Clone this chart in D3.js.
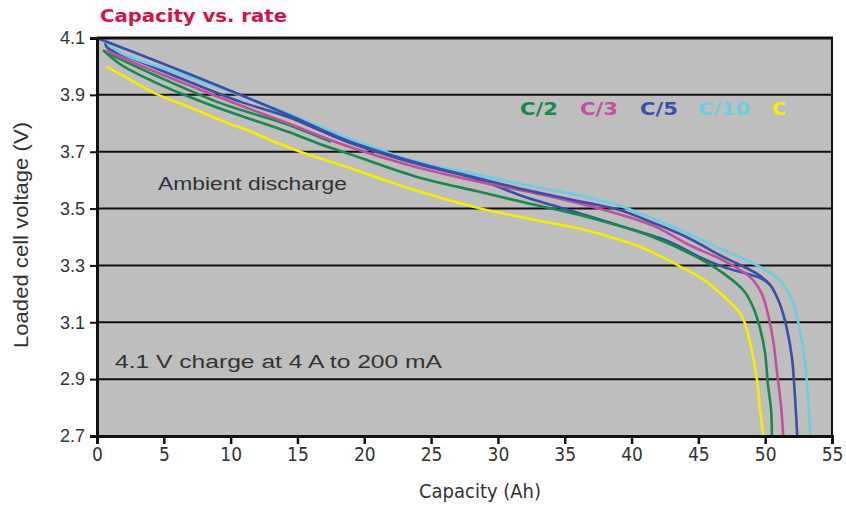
<!DOCTYPE html>
<html><head><meta charset="utf-8">
<script src="https://cdn.jsdelivr.net/npm/d3@7"></script>
<style>body{margin:0;background:#fff}svg{display:block}</style>
</head><body><svg id="c" width="846" height="505"></svg>
<script>
// ---- data ----
const xTicks = [0,5,10,15,20,25,30,35,40,45,50,55];
const yTicks = [2.7,2.9,3.1,3.3,3.5,3.7,3.9,4.1];
const seriesNames = ["C/2","C/3","C/5","C/10","C"];
const seriesColors = ["#17894a","#c24f9c","#3a4fa6","#6dcde0","#f4ee00"];

const capC2  = [0.45,1.8,4.3,6.8,9.3,11.8,14.3,16.5,18.7,23.7,28.7,32.4,36.7,41.6,44.9,46.9,48.4,49.1,49.6,50.0,50.2,50.45,50.5];
const voltC2 = [4.058,4.006,3.945,3.895,3.85,3.81,3.77,3.73,3.695,3.615,3.558,3.517,3.47,3.40,3.329,3.271,3.211,3.153,3.082,2.989,2.883,2.788,2.70];
const capC2b  = [0.8,4.3,9.3,14.3,17.5];
const voltC2b = [4.047,3.97,3.87,3.795,3.735];

const capC3  = [0.7,3.1,6.8,10.6,14.3,18.7,23.7,28.7,32.4,36.7,41.6,44.4,46.9,48.9,49.75,50.2,50.6,50.9,51.2,51.35];
const voltC3 = [4.055,4.006,3.935,3.865,3.80,3.72,3.648,3.593,3.558,3.511,3.44,3.37,3.317,3.258,3.20,3.13,3.035,2.918,2.80,2.70];

const capC5  = [0,6.8,14.3,18.7,23.7,28.7,31.7,36.7,39.1,41.6,44.1,46.9,49.4,50.4,51.1,51.6,52.0,52.2,52.4];
const voltC5 = [4.10,3.975,3.83,3.74,3.665,3.605,3.57,3.52,3.495,3.45,3.40,3.329,3.27,3.23,3.164,3.082,2.976,2.859,2.70];
const capC5b  = [0.6,0.8,3.1,6.8,10.6,14.3,18.7,23.7,28.7,31.7,35.4,39.1,42.9,45.1,46.9,49.75,50.4];
const voltC5b = [4.082,4.065,4.019,3.948,3.878,3.822,3.735,3.66,3.6,3.546,3.493,3.44,3.382,3.329,3.294,3.253,3.23];

const capC10  = [0.6,1.8,6.8,11.8,14.3,18.7,23.7,28.7,32.4,36.7,39.1,41.6,44.1,46.6,49.4,51.1,52.1,52.6,53.0,53.2,53.4];
const voltC10 = [4.088,4.047,3.965,3.88,3.835,3.75,3.668,3.617,3.58,3.54,3.51,3.465,3.415,3.36,3.30,3.247,3.166,3.07,2.954,2.835,2.70];

const capC1  = [0.7,1.8,4.3,6.8,9.3,11.8,13.7,15.2,18.7,23.7,28.7,31.7,34.2,36.7,39.1,40.4,41.6,42.9,43.6,44.6,45.6,46.5,47.4,48.1,48.5,49.0,49.4,49.6,49.85];
const voltC1 = [4.00,3.971,3.906,3.859,3.81,3.765,3.727,3.70,3.646,3.566,3.50,3.47,3.447,3.423,3.39,3.37,3.345,3.315,3.297,3.272,3.243,3.208,3.169,3.134,3.095,3.0,2.894,2.80,2.70];

// ---- layout ----
const svg = d3.select("#c");
const L=97, R=832, T=38, B=436;
const x = d3.scaleLinear().domain([0,55]).range([L,R]);
const y = d3.scaleLinear().domain([2.7,4.1]).range([B,T]);

svg.append("rect").attr("x",L).attr("y",T).attr("width",R-L).attr("height",B-T).attr("fill","#bebebe");

// gridlines
svg.append("g").selectAll("line").data(yTicks.filter(v=>v>2.75 && v<4.05)).join("line")
  .attr("x1",L).attr("x2",R).attr("y1",d=>y(d)).attr("y2",d=>y(d))
  .attr("stroke","#111").attr("stroke-width",2);

// series
const lines = [
  {c:capC2b,v:voltC2b,col:seriesColors[0]},
  {c:capC5b,v:voltC5b,col:seriesColors[2]},
  {c:capC1,v:voltC1,col:seriesColors[4]},
  {c:capC2,v:voltC2,col:seriesColors[0]},
  {c:capC3,v:voltC3,col:seriesColors[1]},
  {c:capC10,v:voltC10,col:seriesColors[3]},
  {c:capC5,v:voltC5,col:seriesColors[2]}
];
const lineGen = d3.line().x(d=>x(d[0])).y(d=>y(d[1])).curve(d3.curveCatmullRom.alpha(0.5));
lines.forEach(s=>{
  svg.append("path").datum(s.c.map((c,i)=>[c,s.v[i]]))
    .attr("d",lineGen).attr("fill","none").attr("stroke",s.col).attr("stroke-width",2.6)
    .attr("stroke-linejoin","round");
});

// frame top/right
svg.append("line").attr("x1",L).attr("x2",R+1).attr("y1",T).attr("y2",T).attr("stroke","#111").attr("stroke-width",3);
svg.append("line").attr("x1",R).attr("x2",R).attr("y1",T).attr("y2",B).attr("stroke","#111").attr("stroke-width",2);

// axes
const yAxis = d3.axisLeft(y).tickValues(yTicks).tickSize(7).tickFormat(d3.format(".1f"));
const gy = svg.append("g").attr("transform",`translate(${L},0)`).call(yAxis);
gy.select(".domain").attr("stroke","#111").attr("stroke-width",3);
gy.selectAll(".tick line").attr("stroke","#111").attr("stroke-width",2);
gy.selectAll(".tick text").attr("font-family","'Liberation Sans',Arial,sans-serif").attr("font-size",18).attr("fill","#333").attr("x",-12);

const xAxis = d3.axisBottom(x).tickValues(xTicks).tickSize(8).tickFormat(d3.format("d"));
const gx = svg.append("g").attr("transform",`translate(0,${B})`).call(xAxis);
gx.select(".domain").attr("stroke","#111").attr("stroke-width",3);
gx.selectAll(".tick line").attr("stroke","#111").attr("stroke-width",2.5);
gx.selectAll(".tick text").attr("font-family","'Liberation Sans Narrow','DejaVu Sans Condensed',sans-serif").attr("font-stretch","condensed").attr("font-size",19).attr("fill","#333").attr("y",12);

// titles
svg.append("text").attr("x",100).attr("y",22).text("Capacity vs. rate")
  .attr("font-family","'DejaVu Sans',sans-serif").attr("font-weight","bold").attr("font-size",17)
  .attr("fill","#d5124a").attr("textLength",187).attr("lengthAdjust","spacingAndGlyphs");
svg.append("text").attr("x",480).attr("y",498).attr("text-anchor","middle").text("Capacity (Ah)")
  .attr("font-family","'Liberation Sans Narrow','DejaVu Sans Condensed',sans-serif").attr("font-size",20).attr("fill","#333");
svg.append("text").attr("transform","translate(28,235) rotate(-90)").attr("text-anchor","middle").text("Loaded cell voltage (V)")
  .attr("font-family","'Liberation Sans',Arial,sans-serif").attr("font-size",20).attr("fill","#333")
  .attr("textLength",226).attr("lengthAdjust","spacingAndGlyphs");

// annotations
svg.append("text").attr("x",158).attr("y",190).text("Ambient discharge")
  .attr("font-family","'Liberation Sans',Arial,sans-serif").attr("font-size",18).attr("fill","#333")
  .attr("textLength",189).attr("lengthAdjust","spacingAndGlyphs");
svg.append("text").attr("x",115).attr("y",368).text("4.1 V charge at 4 A to 200 mA")
  .attr("font-family","'Liberation Sans',Arial,sans-serif").attr("font-size",18).attr("fill","#333")
  .attr("textLength",327).attr("lengthAdjust","spacingAndGlyphs");

// legend
const legX = [520,580,640,698,772];
const legW = [38,38,38,52,14];
seriesNames.forEach((n,i)=>{
  svg.append("text").attr("x",legX[i]).attr("y",115).text(n)
    .attr("font-family","'DejaVu Sans',sans-serif").attr("font-weight","bold").attr("font-size",17)
    .attr("fill",seriesColors[i]).attr("textLength",legW[i]).attr("lengthAdjust","spacingAndGlyphs");
});
</script></body></html>
